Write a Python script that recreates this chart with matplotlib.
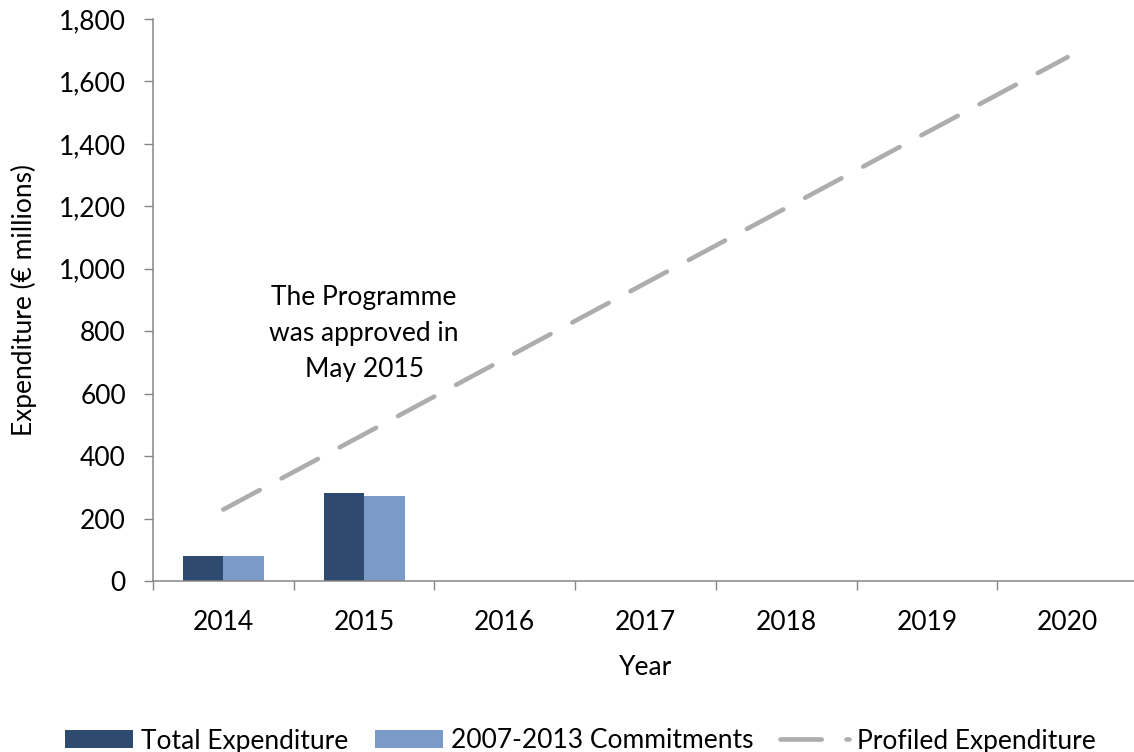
import matplotlib
matplotlib.use("Agg")
import matplotlib.pyplot as plt
from matplotlib.lines import Line2D
from matplotlib.patches import Patch
from matplotlib.ticker import FuncFormatter, FixedLocator

years = ["2014", "2015", "2016", "2017", "2018", "2019", "2020"]
total_expenditure = [81, 281, None, None, None, None, None]
commitments_2007_2013 = [79, 273, None, None, None, None, None]
profiled_expenditure = [229, 470, 712, 954, 1195, 1437, 1678]

DARK = "#2E4A6F"
LIGHT = "#7A9BC8"
GREY = "#ADADAD"
AXIS = "#868686"
FONT = "Lato"
FS = 19

plt.rcParams["font.family"] = [FONT, "DejaVu Sans"]

fig = plt.figure(figsize=(11.34, 7.52), dpi=100)
ax = fig.add_axes([153 / 1134, (752 - 581) / 752, 985 / 1134, 562 / 752])

x = list(range(len(years)))
w = 0.288
for i, (a, b) in enumerate(zip(total_expenditure, commitments_2007_2013)):
    if a is not None:
        ax.bar(i - w / 2, a, width=w, color=DARK, edgecolor="none")
    if b is not None:
        ax.bar(i + w / 2, b, width=w, color=LIGHT, edgecolor="none")

ax.plot(x, profiled_expenditure, color=GREY, linewidth=3.3,
        dashes=(9, 5.4), solid_capstyle="round", dash_capstyle="round")

ax.set_xlim(-0.5, len(years) - 0.5)
ax.set_ylim(0, 1800)
ax.set_yticks(range(0, 1801, 200))
ax.yaxis.set_major_formatter(FuncFormatter(lambda v, p: f"{int(v):,}"))

ax.xaxis.set_major_locator(FixedLocator([i - 0.5 for i in range(len(years) + 1)]))
ax.xaxis.set_minor_locator(FixedLocator(x))
ax.set_xticklabels([])
ax.set_xticklabels(years, minor=True)
ax.tick_params(axis="x", which="major", length=6.5, width=1.0, color=AXIS, direction="out")
ax.tick_params(axis="x", which="minor", length=0, pad=21, labelsize=FS)
ax.tick_params(axis="y", length=6.5, width=1.0, color=AXIS, labelsize=FS, pad=13)

for s in ["top", "right"]:
    ax.spines[s].set_visible(False)
for s in ["left", "bottom"]:
    ax.spines[s].set_color(AXIS)
    ax.spines[s].set_linewidth(1.1)
ax.spines["bottom"].set_clip_on(False)

ax.set_xlabel("Year", fontsize=FS, labelpad=14)
ax.set_ylabel("Expenditure (€ millions)", fontsize=FS, labelpad=16)

ax.text(1, 794, "The Programme\nwas approved in\nMay 2015", ha="center", va="center",
        fontsize=FS, linespacing=1.55)

handles = [
    Patch(facecolor=DARK, edgecolor="none"),
    Patch(facecolor=LIGHT, edgecolor="none"),
    Line2D([], [], color=GREY, linewidth=3.3, dashes=(9, 5.4), dash_capstyle="round"),
]
labels = ["Total Expenditure", "2007-2013 Commitments", "Profiled Expenditure"]
fig.legend(handles, labels, loc="center", bbox_to_anchor=(580 / 1134, 1 - 741 / 752),
           ncol=3, frameon=False, fontsize=FS, handlelength=2.6, handleheight=0.65,
           handletextpad=0.3, columnspacing=1.0)

fig.savefig("out.png", dpi=100)
